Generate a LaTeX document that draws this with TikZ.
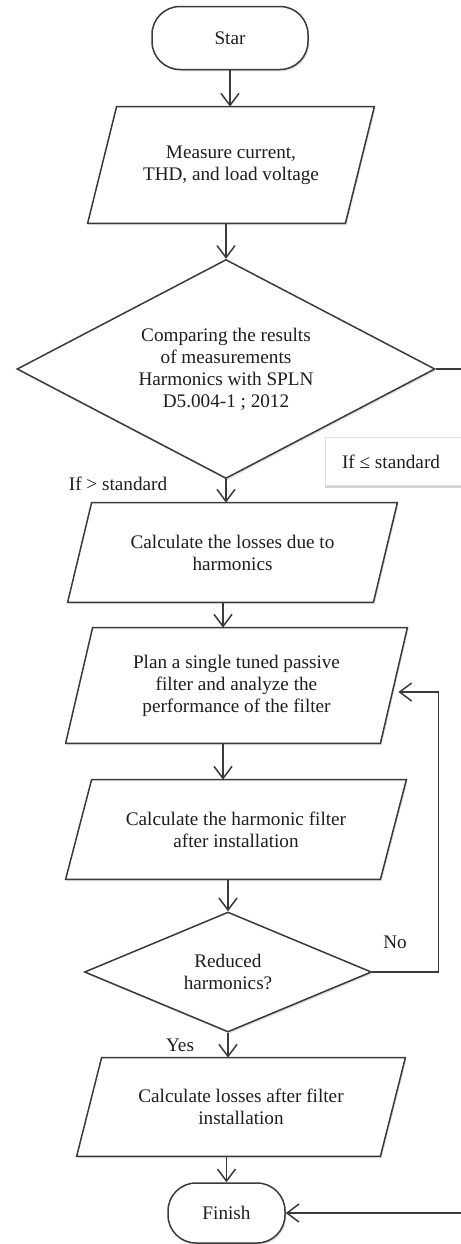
\documentclass[tikz,border=0pt]{standalone}
\usepackage{fontspec}
\setmainfont{Liberation Serif}
\usetikzlibrary{shapes.geometric,arrows.meta,shadows}
\definecolor{linec}{HTML}{3A3A3A}
\definecolor{txtc}{HTML}{1E1E1E}
\pgfdeclarelayer{bg}
\pgfsetlayers{bg,main}
\begin{document}
\begin{tikzpicture}[x=0.5pt,y=-0.5pt,
  font=\fontsize{9.6}{11}\selectfont,
  outline/.style={draw=linec, line width=0.75pt, fill=white,
    drop shadow={shadow xshift=0.6pt, shadow yshift=-0.9pt, opacity=0.25}},
  base/.style={outline, text=txtc, align=center, inner sep=0pt},
  term/.style={base, rectangle, rounded corners=14pt},
  io/.style={rectangle, text=txtc, align=center, inner sep=0pt},
  dec/.style={base, diamond, aspect=2},
  arr/.style={draw=linec, line width=0.75pt, -{Straight Barb[length=6pt,width=9pt]}},
  lbl/.style={text=txtc, inner sep=0pt},
  lebox/.style={draw=gray!25, fill=white, line width=0.4pt,
    drop shadow={shadow xshift=0pt, shadow yshift=-1.5pt, opacity=0.35}}
]
\useasboundingbox (0,0) rectangle (461,1244);

\node[term, minimum width=78pt, minimum height=31.5pt] (start) at (230,38) {Star};
\node[io, minimum width=143pt, minimum height=58pt] (p1) at (231,165) {Measure current,\\THD, and load voltage};
\node[dec, minimum width=209pt, minimum height=109.5pt] (d1) at (226,369) {Comparing the results\\of measurements\\Harmonics with SPLN\\D5.004-1 ; 2012};
\node[io, minimum width=164.5pt, minimum height=49.5pt] (p2) at (232.5,552.5) {Calculate the losses due to\\harmonics};
\node[io, minimum width=170.5pt, minimum height=57.5pt] (p3) at (236.5,685.5) {Plan a single tuned passive\\filter and analyze the\\performance of the filter};
\node[io, minimum width=170pt, minimum height=49.5pt] (p4) at (236,829.5) {Calculate the harmonic filter\\after installation};
\node[dec, minimum width=143.5pt, minimum height=60pt] (d2) at (228,972) {Reduced\\harmonics?};
\node[io, minimum width=164pt, minimum height=49pt] (p5) at (241,1107) {Calculate losses after filter\\installation};
\node[term, minimum width=58.5pt, minimum height=30pt] (fin) at (226.5,1213) {Finish};

\begin{pgfonlayer}{bg}
\foreach \n/\s in {p1/14.5pt, p2/12pt, p3/13.5pt, p4/13pt, p5/12.5pt}
  \draw[outline] ([xshift=\s]\n.north west) -- (\n.north east)
    -- ([xshift=-\s]\n.south east) -- (\n.south west) -- cycle;
\end{pgfonlayer}

\node[lebox, minimum width=72.5pt, minimum height=24pt] (lebox) at (397.5,461) {};
\node[lbl] (le) at (391,462) {If ≤ standard};
\node[lbl] (gt) at (118,484) {If > standard};
\node[lbl] (no) at (395,942) {No};
\node[lbl] (yes) at (180,1045) {Yes};

\draw[arr] (start.south) -- (start.south |- p1.north);
\draw[arr] (p1.south -| d1.north) -- (d1.north);
\draw[arr] (d1.south) -- (d1.south |- p2.north);
\draw[arr] ([xshift=-4.75pt]p2.south) -- ([xshift=-4.75pt]p2.south |- p3.north);
\draw[arr] ([xshift=-6.75pt]p3.south) -- ([xshift=-6.75pt]p3.south |- p4.north);
\draw[arr] (p4.south -| d2.north) -- (d2.north);
\draw[arr] (d2.south) -- (d2.south |- p5.north);
\draw[arr] (p5.south -| fin.north) -- (fin.north);
\draw[arr] (d2.east) -- ++(66,0) |- ([xshift=-4.5pt,yshift=-3.25pt]p3.east);
\draw[arr] (d1.east) -- ++(40,0) |- (fin.east);
\end{tikzpicture}
\end{document}
